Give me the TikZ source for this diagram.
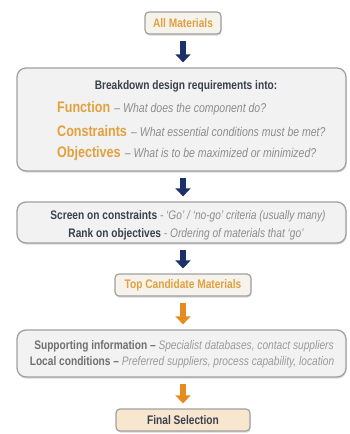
\documentclass[tikz,border=0pt]{standalone}
\usepackage{fontspec}
\setmainfont{Liberation Sans}[FakeStretch=0.82]
\usetikzlibrary{arrows.meta,shadows}
\definecolor{orangetxt}{RGB}{226,160,62}
\definecolor{slate}{RGB}{58,64,78}
\definecolor{itgray}{RGB}{140,140,140}
\definecolor{gfivebold}{RGB}{112,112,112}
\definecolor{gfiveit}{RGB}{155,155,155}
\definecolor{boxfill}{RGB}{242,242,242}
\definecolor{boxline}{RGB}{160,160,160}
\definecolor{creamfill}{RGB}{246,243,236}
\definecolor{peach}{RGB}{248,231,206}
\definecolor{navy}{RGB}{28,48,105}
\definecolor{orarrow}{RGB}{228,140,30}
\begin{document}
\begin{tikzpicture}[x=1pt,y=-1pt,
  shadowed/.style={drop shadow={shadow xshift=0.6pt,shadow yshift=-1.6pt,opacity=0.3}},
  bigbox/.style={draw=boxline,line width=1.3pt,fill=boxfill,rounded corners=9pt,
    minimum width=329pt,inner sep=0pt,shadowed},
  smallbox/.style={draw=boxline,line width=1.2pt,rounded corners=4pt,
    minimum height=22pt,inner sep=0pt,shadowed,
    font=\fontsize{12.4}{14}\selectfont\bfseries,text=orangetxt},
  txt/.style={inner sep=0pt,font=\fontsize{12.4}{14}\selectfont},
  bigtxt/.style={inner sep=0pt,anchor=west},
  navyarrow/.style={draw=navy,line width=6pt,-{Triangle[width=15pt,length=8pt]},
    shorten <=6pt,shorten >=5pt},
  orarrowstyle/.style={draw=orarrow,line width=6pt,-{Triangle[width=15pt,length=8pt]},
    shorten <=6pt,shorten >=5pt}
]
\useasboundingbox (0,0) rectangle (349,434);
% boxes
\node[smallbox,fill=creamfill,minimum width=76pt] (am) at (183,23) {All Materials};
\node[bigbox,minimum height=103pt] (big) at (181.5,119.5) {};
\node[bigbox,minimum height=41pt] (scr) at (181.5,222.5) {};
\node[smallbox,fill=creamfill,minimum width=136pt] (tc) at (183,285) {Top Candidate Materials};
\node[bigbox,minimum height=47pt] (sup) at (181.5,353.5) {};
\node[smallbox,fill=peach,minimum width=134pt,text=slate] (fin) at (183,420) {Final Selection};
% big box text
\node[txt,font=\fontsize{12.4}{14}\selectfont\bfseries,text=slate] (bd) at (186,86) {Breakdown design requirements into:};
\node[bigtxt] (fn) at (57,108) {{\fontsize{15.3}{18}\selectfont\bfseries\color{orangetxt}Function}\hspace{2pt} {\fontsize{12.8}{14}\selectfont\itshape\color{itgray}– What does the component do?}};
\node[bigtxt] (cn) at (57,131) {{\fontsize{15.3}{18}\selectfont\bfseries\color{orangetxt}Constraints}\hspace{2pt} {\fontsize{12.8}{14}\selectfont\itshape\color{itgray}– What essential conditions must be met?}};
\node[bigtxt] (ob) at (57,154) {{\fontsize{15.3}{18}\selectfont\bfseries\color{orangetxt}Objectives}\hspace{2pt} {\fontsize{12.8}{14}\selectfont\itshape\color{itgray}– What is to be maximized or minimized?}};
% screen box text
\node[txt] (s1) at (188,216) {{\bfseries\color{slate}Screen on constraints} {\itshape\color{itgray}- ‘Go’ / ‘no-go’ criteria (usually many)}};
\node[txt] (s2) at (186,234) {{\bfseries\color{slate}Rank on objectives} {\itshape\color{itgray}- Ordering of materials that ‘go’}};
% supporting box text
\node[txt] (p1) at (184,346) {{\bfseries\color{gfivebold}Supporting information –} {\itshape\color{gfiveit}Specialist databases, contact suppliers}};
\node[txt] (p2) at (182,362) {{\bfseries\color{gfivebold}Local conditions –} {\itshape\color{gfiveit}Preferred suppliers, process capability, location}};
% arrows
\draw[navyarrow] (am.south) -- (am.south |- big.north);
\draw[navyarrow] (am.south |- big.south) -- (am.south |- scr.north);
\draw[navyarrow] (am.south |- scr.south) -- (tc.north);
\draw[orarrowstyle] (tc.south) -- (tc.south |- sup.north);
\draw[orarrowstyle] (tc.south |- sup.south) -- (fin.north);
\end{tikzpicture}
\end{document}
